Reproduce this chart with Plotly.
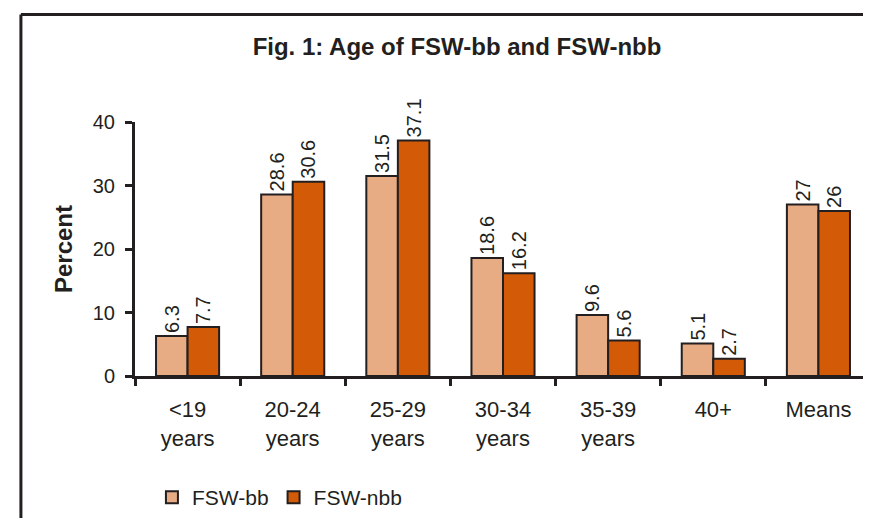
import plotly.graph_objects as go

# age groups and the two series (percent)
AGE_GROUPS = ["<19<br>years", "20-24<br>years", "25-29<br>years", "30-34<br>years",
              "35-39<br>years", "40+", "Means"]
FSW_BB = [6.3, 28.6, 31.5, 18.6, 9.6, 5.1, 27]
FSW_NBB = [7.7, 30.6, 37.1, 16.2, 5.6, 2.7, 26]

INK = "#231f20"
FONT = "Liberation Sans, Arial, sans-serif"

fig = go.Figure()
for name, vals, col in [("FSW-bb", FSW_BB, "#e8ac84"), ("FSW-nbb", FSW_NBB, "#d35a06")]:
    fig.add_trace(go.Bar(
        x=AGE_GROUPS, y=vals, name=name,
        marker=dict(color=col, line=dict(color=INK, width=2)),
        text=[f"{v:g}" for v in vals], textposition="outside", textangle=-90,
        textfont=dict(size=20, color=INK, family=FONT),
        constraintext="none", cliponaxis=False,
    ))

# page body has an 8px margin, so the figure is a bit smaller than the window
fig.update_layout(
    width=863, height=510,
    paper_bgcolor="white", plot_bgcolor="white",
    margin=dict(l=127, r=0, t=114, b=141),
    barmode="group", bargap=0.40, bargroupgap=0,
    font=dict(family=FONT, color=INK, size=20),
    title=dict(text="<b>Fig. 1: Age of FSW-bb and FSW-nbb</b>", x=0.4375, xref="paper",
               xanchor="center", y=0.9235, yanchor="middle",
               font=dict(size=24, color=INK, family=FONT)),
    legend=dict(orientation="h", x=0.023, y=-0.395, xanchor="left", yanchor="top",
                font=dict(size=21), itemwidth=30, traceorder="normal"),
)

fig.update_xaxes(
    showline=True, linecolor=INK, linewidth=3,
    ticks="outside", tickson="boundaries", ticklen=7, tickwidth=3, tickcolor=INK,
    tickfont=dict(size=22), ticklabelstandoff=12, range=[-0.5, 6.5], showgrid=False,
)
fig.update_yaxes(
    range=[0, 40], tickvals=[0, 10, 20, 30, 40], showgrid=False, zeroline=False,
    showline=True, linecolor=INK, linewidth=3,
    ticks="outside", ticklen=7, tickwidth=3, tickcolor=INK,
    tickfont=dict(size=20), ticklabelstandoff=6,
    title=dict(text="<b>Percent</b>", font=dict(size=24), standoff=14),
)

# the figure frame: only top and left edges show
fig.add_shape(type="line", xref="paper", yref="paper", x0=-0.155, x1=1.02, y0=1.4235, y1=1.4235,
              line=dict(color=INK, width=3))
fig.add_shape(type="line", xref="paper", yref="paper", x0=-0.155, x1=-0.155, y0=1.4235, y1=-0.7,
              line=dict(color=INK, width=3))

fig.write_html("out.html")
